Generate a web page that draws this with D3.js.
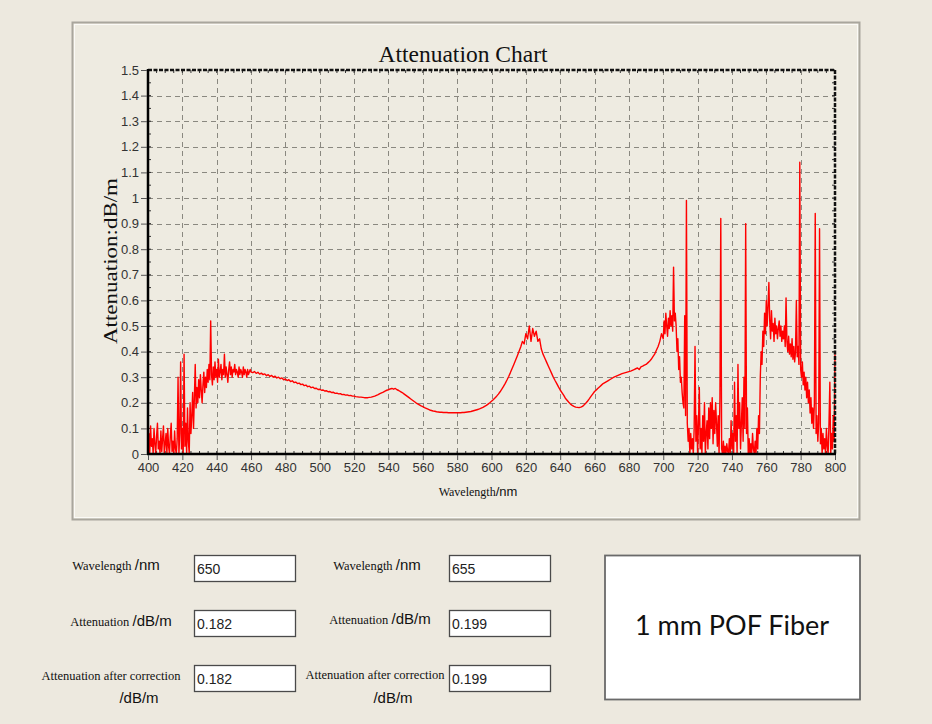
<!DOCTYPE html>
<html><head><meta charset="utf-8">
<script src="https://cdn.jsdelivr.net/npm/d3@7"></script>
<style>body{margin:0;background:#ede9df;} svg{display:block}</style>
</head><body><svg id="c" width="932" height="724"></svg>
<script>
// ---- DATA ----
// segment A: 400 - 460 nm, every 0.5 nm
const attenA_start = 400, attenA_step = 0.5;
const attenA = [
0.02,0.08,0.0,0.11,0.03,0.06,0.0,0.10,
0.04,0.0,0.07,0.12,0.02,0.05,0.0,0.09,
0.01,0.06,0.11,0.0,0.04,0.08,0.0,0.10,
0.03,0.0,0.07,0.12,0.01,0.05,0.0,0.09,
0.02,0.0,0.06,0.30,0.0,0.08,0.36,0.02,
0.10,0.0,0.39,0.03,0.12,0.0,0.18,0.05,
0.0,0.20,0.08,0.15,0.24,0.10,0.22,0.35,
0.18,0.26,0.20,0.29,0.22,0.31,0.25,0.20,
0.27,0.32,0.24,0.30,0.26,0.33,0.28,0.35,
0.29,0.52,0.31,0.27,0.34,0.29,0.36,0.30,
0.33,0.28,0.37,0.30,0.32,0.35,0.29,0.33,
0.31,0.39,0.30,0.34,0.31,0.28,0.33,0.36,
0.31,0.34,0.30,0.33,0.32,0.35,0.31,0.33,
0.32,0.30,0.34,0.31,0.33,0.32,0.30,0.34,
0.31,0.33,0.32,0.30,0.33,0.31,0.32,0.33,
0.32];
// segment B: 461 - 699 nm, every 1 nm
const attenB_start = 461, attenB_step = 1;
const attenB = [
0.318,0.322,0.315,0.319,0.312,0.316,0.310,0.313,0.306,0.310,0.303,0.307,0.300,0.304,0.297,0.300,0.294,0.297,0.290,0.293,
0.287,0.290,0.283,0.286,0.279,0.281,0.275,0.277,0.271,0.273,0.267,0.269,0.263,0.265,0.259,0.261,0.256,0.257,0.252,0.253,
0.249,0.250,0.246,0.247,0.243,0.244,0.240,0.241,0.237,0.238,0.235,0.236,0.232,0.233,0.230,0.231,0.228,0.229,0.226,0.226,
0.224,0.223,0.222,0.222,0.221,0.220,0.220,0.220,0.221,0.222,0.224,0.226,0.229,0.232,0.236,0.239,0.242,0.246,0.249,0.251,
0.254,0.256,0.253,0.256,0.251,0.248,0.244,0.240,0.235,0.230,0.225,0.220,0.215,0.210,0.205,0.200,0.196,0.192,0.188,0.185,
0.181,0.178,0.175,0.172,0.170,0.168,0.167,0.165,0.164,0.163,0.163,0.162,0.162,0.162,0.161,0.161,0.161,0.161,0.161,0.161,
0.161,0.161,0.162,0.162,0.163,0.164,0.165,0.166,0.168,0.170,0.172,0.174,0.176,0.179,0.182,0.186,0.190,0.195,0.200,0.206,
0.212,0.219,0.226,0.234,0.243,0.253,0.264,0.276,0.289,0.303,0.318,0.334,0.350,0.366,0.383,0.400,0.418,0.440,0.430,0.470,
0.450,0.500,0.440,0.490,0.460,0.480,0.440,0.450,0.410,0.390,0.375,0.360,0.345,0.330,0.315,0.300,0.287,0.275,0.262,0.250,
0.240,0.230,0.218,0.210,0.202,0.195,0.190,0.186,0.183,0.182,0.181,0.183,0.186,0.192,0.199,0.207,0.216,0.226,0.235,0.244,
0.250,0.257,0.263,0.269,0.275,0.279,0.283,0.287,0.291,0.295,0.299,0.302,0.305,0.308,0.311,0.314,0.316,0.318,0.320,0.322,
0.324,0.327,0.330,0.333,0.336,0.330,0.340,0.343,0.347,0.350,0.356,0.362,0.370,0.380,0.390,0.405,0.420,0.440,0.470];
// segment C: 700 - 800 nm, every 0.5 nm
const attenC_start = 700, attenC_step = 0.5;
const attenC = [
0.45,0.52,0.47,0.55,0.50,0.46,0.53,0.49,0.56,0.50,0.54,0.48,
0.73,0.52,0.55,0.50,
0.40,0.45,0.33,0.38,0.28,0.30,0.24,0.20,
0.18,0.54,0.15,0.99,
0.12,0.05,0.10,0.0,0.08,0.02,0.06,0.0,
0.10,0.42,0.05,0.15,0.0,0.12,0.26,0.02,
0.10,0.0,0.15,0.05,0.20,0.0,0.08,0.13,
0.02,0.18,0.06,0.20,0.10,0.22,0.04,0.17,
0.08,0.20,0.12,0.03,0.15,0.0,0.22,0.92,
0.02,0.0,0.05,0.0,0.03,0.0,0.04,0.01,
0.0,0.06,0.0,0.13,0.02,0.08,0.0,0.28,
0.05,0.15,0.0,0.35,0.10,0.20,0.02,0.12,
0.22,0.05,0.30,0.10,0.90,0.08,0.18,0.0,
0.06,0.0,0.04,0.0,0.08,0.02,0.0,0.05,
0.0,0.10,0.02,0.15,0.08,0.30,0.40,0.35,
0.48,0.42,0.55,0.47,0.60,0.50,0.58,0.67,
0.52,0.45,0.56,0.48,0.51,0.44,0.53,0.47,
0.50,0.45,0.49,0.52,0.46,0.50,0.44,0.48,
0.45,0.50,0.42,0.61,0.44,0.40,0.46,0.39,
0.43,0.38,0.45,0.37,0.42,0.36,0.40,0.60,
0.38,0.42,0.35,1.14,0.33,0.30,0.36,0.27,
0.32,0.25,0.30,0.22,0.28,0.20,0.25,0.16,
0.22,0.12,0.18,0.10,0.20,0.94,0.08,0.15,
0.05,0.12,0.88,0.04,0.10,0.0,0.08,0.02,
0.06,0.0,0.10,0.03,0.0,0.12,0.28,0.0,
0.08,0.02,0.15,0.05,0.39];

const xTicks = [400,420,440,460,480,500,520,540,560,580,600,620,640,660,680,700,720,740,760,780,800];
const yTicks = [0,0.1,0.2,0.3,0.4,0.5,0.6,0.7,0.8,0.9,1,1.1,1.2,1.3,1.4,1.5];
const yTickLabels = ["0","0.1","0.2","0.3","0.4","0.5","0.6","0.7","0.8","0.9","1","1.1","1.2","1.3","1.4","1.5"];
const chartTitle = "Attenuation Chart";
const yTitle = "Attenuation:dB/m";
const fieldWl = ["650","655"];
const fieldAtt = ["0.182","0.199"];
const fieldAttCorr = ["0.182","0.199"];
const sampleName = "1 mm POF Fiber";

// ---- DRAW ----
const svg = d3.select("#c");
const serif = "'Liberation Serif','Times New Roman',serif";
const sans = "'Liberation Sans',Arial,sans-serif";

svg.append("rect").attr("width",932).attr("height",724).attr("fill","#ede9df");
// chart panel
svg.append("rect").attr("x",72.5).attr("y",22.5).attr("width",787).attr("height",497)
  .attr("fill","#eeebe1").attr("stroke","#a9a69d").attr("stroke-width",2);
svg.append("rect").attr("x",74.5).attr("y",24.5).attr("width",783).attr("height",493)
  .attr("fill","none").attr("stroke","#fbfaf6").attr("stroke-width",1);

const X0=148, X1=835, Y0=454, Y1=70;
const x = d3.scaleLinear().domain([400,800]).range([X0,X1]);
const y = d3.scaleLinear().domain([0,1.5]).range([Y0,Y1]);

// grid
const grid = svg.append("g").attr("stroke","#8a8880").attr("stroke-width",1).attr("stroke-dasharray","5,4");
grid.selectAll(".gx").data(xTicks.slice(1,-1)).join("line")
  .attr("x1",d=>Math.round(x(d))+0.5).attr("x2",d=>Math.round(x(d))+0.5).attr("y1",Y1).attr("y2",Y0);
grid.selectAll(".gy").data(yTicks.slice(1,-1)).join("line")
  .attr("y1",d=>Math.round(y(d))+0.5).attr("y2",d=>Math.round(y(d))+0.5).attr("x1",X0).attr("x2",X1);

// minor ticks on the frame
const minorX = d3.range(400,801,5);
const minorY = d3.range(0,1.501,0.05);
const mt = svg.append("g").attr("stroke","#333").attr("stroke-width",1);
mt.selectAll(".mb").data(minorX).join("line").attr("x1",d=>x(d)).attr("x2",d=>x(d)).attr("y1",Y0).attr("y2",Y0-3);
mt.selectAll(".mtp").data(minorX).join("line").attr("x1",d=>x(d)).attr("x2",d=>x(d)).attr("y1",Y1).attr("y2",Y1+3);
mt.selectAll(".ml").data(minorY).join("line").attr("y1",d=>y(d)).attr("y2",d=>y(d)).attr("x1",X0).attr("x2",X0+3);
mt.selectAll(".mr").data(minorY).join("line").attr("y1",d=>y(d)).attr("y2",d=>y(d)).attr("x1",X1).attr("x2",X1-3);

// data
const segs = [
  {start:attenA_start, step:attenA_step, vals:attenA},
  {start:attenB_start, step:attenB_step, vals:attenB},
  {start:attenC_start, step:attenC_step, vals:attenC}];
const pts = segs.flatMap(s => s.vals.map((v,i)=>[s.start+i*s.step, v]));
const line = d3.line().x(d=>x(d[0])).y(d=>y(d[1]));
svg.append("path").datum(pts).attr("d",line).attr("fill","none")
  .attr("stroke","#ff0000").attr("stroke-width",1.4).attr("stroke-linejoin","round");

// frame
svg.append("line").attr("x1",X0).attr("x2",X1).attr("y1",Y1).attr("y2",Y1)
  .attr("stroke","#111").attr("stroke-width",2.5).attr("stroke-dasharray","4,1.5");
svg.append("line").attr("x1",X1).attr("x2",X1).attr("y1",Y1).attr("y2",Y0)
  .attr("stroke","#111").attr("stroke-width",2.5).attr("stroke-dasharray","4,1.5");
svg.append("line").attr("x1",X0).attr("x2",X0).attr("y1",Y1-1).attr("y2",Y0+1)
  .attr("stroke","#000").attr("stroke-width",2.5);
svg.append("line").attr("x1",X0-1).attr("x2",X1+1).attr("y1",Y0).attr("y2",Y0)
  .attr("stroke","#000").attr("stroke-width",2.5);

// axes (labels)
const xAxis = d3.axisBottom(x).tickValues(xTicks).tickSize(5).tickPadding(3).tickFormat(d3.format("d"));
const gx = svg.append("g").attr("transform",`translate(0,${Y0+1})`).call(xAxis);
gx.select(".domain").remove();
gx.selectAll("line").attr("stroke","#555");
gx.selectAll("text").attr("font-family",sans).attr("font-size",13).attr("fill","#333");

const yAxis = d3.axisLeft(y).tickValues(yTicks).tickSize(6).tickPadding(2).tickFormat((d,i)=>yTickLabels[i]);
const gy = svg.append("g").attr("transform",`translate(${X0-1},0)`).call(yAxis);
gy.select(".domain").remove();
gy.selectAll("line").attr("stroke","#555");
gy.selectAll("text").attr("font-family",sans).attr("font-size",13).attr("fill","#333");

// titles
svg.append("text").attr("x",463).attr("y",62).attr("text-anchor","middle")
  .attr("font-family",serif).attr("font-size",23.5).attr("fill","#111").text(chartTitle);
svg.append("text").attr("transform","translate(117,261) rotate(-90)").attr("text-anchor","middle")
  .attr("font-family",serif).attr("font-size",19).attr("fill","#111")
  .attr("textLength",166).attr("lengthAdjust","spacingAndGlyphs").text(yTitle);
const xt = svg.append("text").attr("x",478).attr("y",496).attr("text-anchor","middle").attr("fill","#111");
xt.append("tspan").attr("font-family",serif).attr("font-size",12).text("Wavelength");
xt.append("tspan").attr("font-family",sans).attr("font-size",13).text("/nm");

// ---- form ----
function label(xc, yb, word, unit, anchor){
  const t = svg.append("text").attr("x",xc).attr("y",yb).attr("text-anchor",anchor||"middle").attr("fill","#111");
  t.append("tspan").attr("font-family",serif).attr("font-size",12.5).text(word);
  if(unit) t.append("tspan").attr("font-family",sans).attr("font-size",15).text(unit);
}
function box(x0,y0,w,h,val){
  svg.append("rect").attr("x",x0+0.5).attr("y",y0+0.5).attr("width",w).attr("height",h)
    .attr("fill","#fff").attr("stroke","#4a4a4a").attr("stroke-width",1.3);
  svg.append("text").attr("x",x0+3).attr("y",y0+h/2+5.5).attr("font-family",sans)
    .attr("font-size",14).attr("fill","#222").text(val);
}
const colBox=[194,449], rowY=[555,610,665], bw=101, bh=26;
[0,1].forEach(c=>{
  box(colBox[c],rowY[0],bw,bh,fieldWl[c]);
  box(colBox[c],rowY[1],bw,bh,fieldAtt[c]);
  box(colBox[c],rowY[2],bw,bh,fieldAttCorr[c]);
});
label(116,570,"Wavelength ","/nm");
label(377,570,"Wavelength ","/nm");
label(121,626,"Attenuation ","/dB/m");
label(380,624,"Attenuation ","/dB/m");
label(111,680,"Attenuation after correction");
label(139,703,"","/dB/m");
label(375,679,"Attenuation after correction");
label(393,703,"","/dB/m");

// sample box
svg.append("rect").attr("x",605).attr("y",555.5).attr("width",255).attr("height",144)
  .attr("fill","#fff").attr("stroke","#6a6a6a").attr("stroke-width",1.8);
svg.append("text").attr("x",732).attr("y",635).attr("text-anchor","middle")
  .attr("font-family","Lato,'Noto Sans',sans-serif").attr("font-size",27).attr("fill","#111").text(sampleName);
</script></body></html>
